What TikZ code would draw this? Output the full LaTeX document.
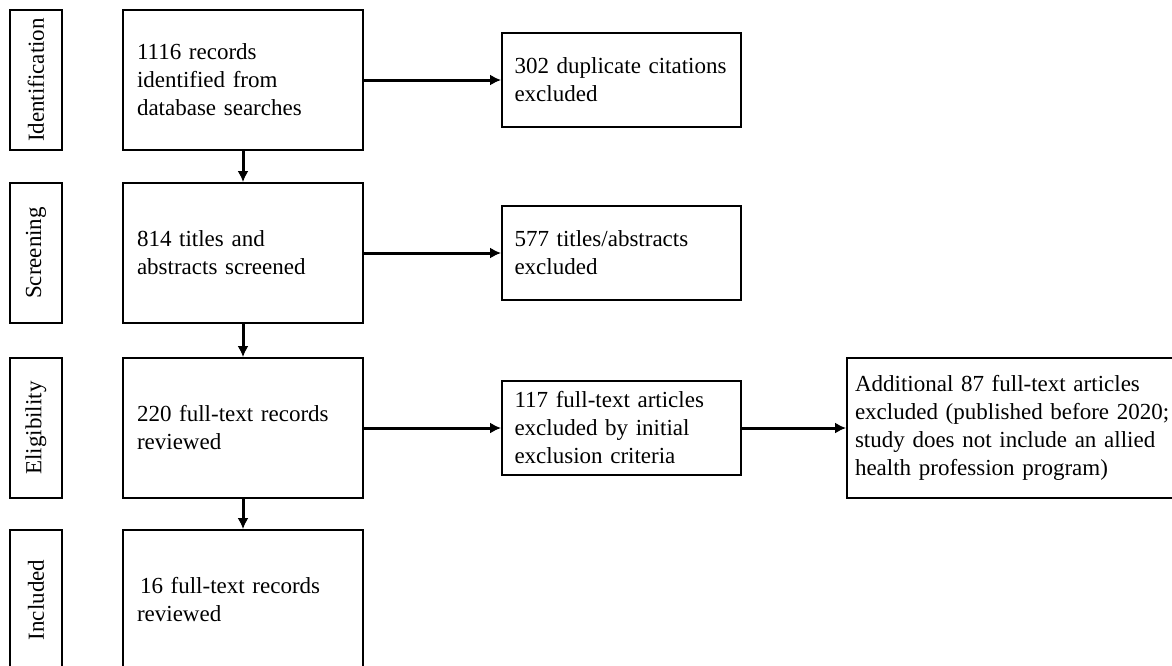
\documentclass[tikz,border=0pt]{standalone}
\usepackage{fontspec}
\setmainfont{Liberation Serif}
\usetikzlibrary{arrows.meta}

\begin{document}
\begin{tikzpicture}[x=1pt,y=-1pt,
        every node/.style={font=\fontsize{23}{28}\selectfont},
        phase/.style={draw,line width=1.8pt,rotate=90,minimum width=140pt,minimum height=52pt,inner sep=0pt},
        stagebox/.style={draw,line width=1.8pt,minimum width=240pt,minimum height=140pt,text width=212pt,inner xsep=14pt,align=left},
        exclbox/.style={draw,line width=1.8pt,minimum width=239pt,minimum height=94pt,text width=214pt,inner xsep=12.5pt,align=left},
        flow/.style={line width=3pt,-{Latex[length=11pt,width=11pt]}}]
        \useasboundingbox (0,0) rectangle (1172,665);
        \node[phase] (idlab) at (36,80) {Identification};
        \node[phase] (scrlab) at (36,253) {Screening};
        \node[phase] (elilab) at (36,428) {Eligibility};
        \node[phase] (inclab) at (36,600) {Included};
        \node[stagebox] (rec) at (243,80) {1116 records\\identified from\\database searches};
        \node[stagebox] (scr) at (243,253) {814 titles and\\abstracts screened};
        \node[stagebox] (eli) at (243,428) {220 full-text records\\reviewed};
        \node[stagebox] (inc) at (243,600) {\hspace*{3pt}16 full-text records\\reviewed};
        \node[exclbox] (dup) at (621.5,80) {302 duplicate citations\\excluded};
        \node[exclbox] (tae) at (621.5,253) {577 titles/abstracts\\excluded};
        \node[exclbox] (ftx) at (621.5,428) {117 full-text articles\\excluded by initial\\exclusion criteria};
        \node[stagebox,minimum width=346pt,text width=330pt,inner xsep=8pt] (add) at (1020,428) {Additional 87 full-text articles\\excluded (published before 2020;\\study does not include an allied\\health profession program)};
        \draw[flow] (rec) -- (scr);
        \draw[flow] (scr) -- (eli);
        \draw[flow] (eli) -- (inc);
        \draw[flow] (rec) -- (dup);
        \draw[flow] (scr) -- (tae);
        \draw[flow] (eli) -- (ftx);
        \draw[flow] (ftx) -- (add);
\end{tikzpicture}
\end{document}
